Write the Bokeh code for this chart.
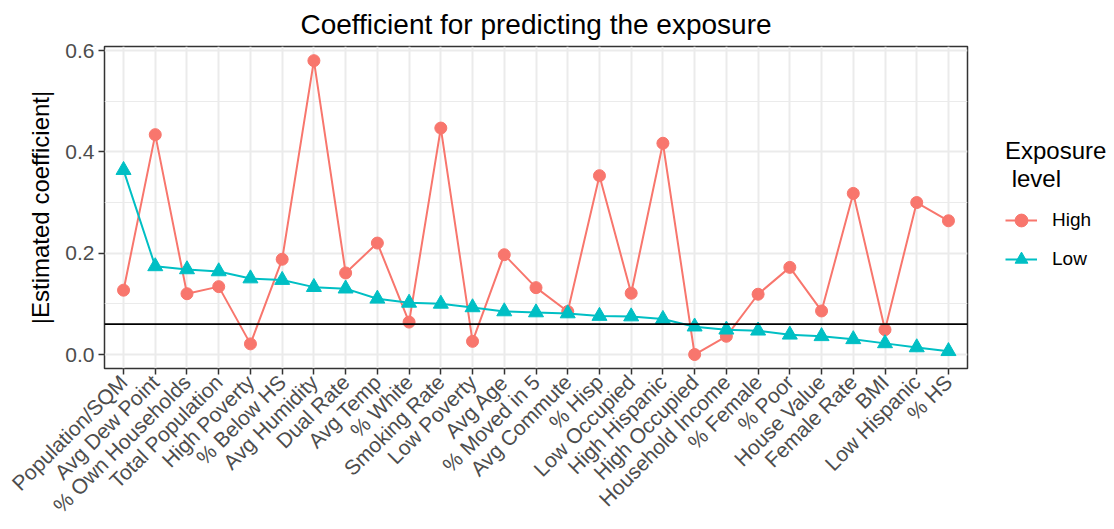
import math
from bokeh.plotting import figure
from bokeh.models import (ColumnDataSource, FactorRange, Range1d, FixedTicker,
                          Legend, LegendItem, Span, NumeralTickFormatter)
from bokeh.embed import file_html
from bokeh.resources import INLINE

categories = ["Population/SQM", "Avg Dew Point", "% Own Households", "Total Population",
              "High Poverty", "% Below HS", "Avg Humidity", "Dual Rate", "Avg Temp",
              "% White", "Smoking Rate", "Low Poverty", "Avg Age", "% Moved in 5",
              "Avg Commute", "% Hisp", "Low Occupied", "High Hispanic", "High Occupied",
              "Household Income", "% Female", "% Poor", "House Value", "Female Rate",
              "BMI", "Low Hispanic", "% HS"]

high = [0.127, 0.434, 0.120, 0.134, 0.021, 0.188, 0.580, 0.161, 0.220, 0.064,
        0.447, 0.026, 0.197, 0.132, 0.085, 0.353, 0.121, 0.417, 0.000, 0.036,
        0.119, 0.172, 0.086, 0.318, 0.049, 0.300, 0.264]

low = [0.364, 0.174, 0.168, 0.164, 0.150, 0.147, 0.133, 0.130, 0.110, 0.102,
       0.100, 0.093, 0.085, 0.083, 0.081, 0.076, 0.075, 0.070, 0.055, 0.049,
       0.047, 0.039, 0.036, 0.030, 0.022, 0.014, 0.0065]

threshold = 0.06
y_ticks = [0.0, 0.2, 0.4, 0.6]
y_minor = [0.1, 0.3, 0.5]

FONT = "Liberation Sans"
RED = "#F8766D"
TEAL = "#00BFC4"

src = ColumnDataSource(dict(cat=categories, high=high, low=low))

p = figure(x_range=FactorRange(factors=categories, range_padding=0.1,
                               range_padding_units="absolute"),
           y_range=Range1d(-0.0276, 0.608),
           frame_width=863, frame_height=322,
           min_border_left=104, min_border_right=139, min_border_top=46,
           min_border_bottom=150,
           output_backend="svg", toolbar_location=None,
           title="Coefficient for predicting the exposure")

p.title.text_font = FONT
p.title.text_font_size = "28px"
p.title.text_font_style = "normal"
p.title.text_color = "black"
p.title.align = "center"
p.title.standoff = 13

p.background_fill_color = "white"
p.border_fill_color = "white"
p.outline_line_color = "#333333"
p.outline_line_width = 1.5

# grids
p.xgrid.grid_line_color = "#EBEBEB"
p.xgrid.grid_line_width = 2
p.ygrid.grid_line_color = "#EBEBEB"
p.ygrid.grid_line_width = 2
p.ygrid.minor_grid_line_color = "#EBEBEB"
p.ygrid.minor_grid_line_width = 1

p.yaxis.ticker = FixedTicker(ticks=y_ticks, minor_ticks=y_minor)
p.yaxis.formatter = NumeralTickFormatter(format="0.0")

for ax in (p.xaxis, p.yaxis):
    ax.axis_line_color = None
    ax.major_tick_line_color = "#333333"
    ax.major_tick_line_width = 1.5
    ax.major_tick_out = 6
    ax.major_tick_in = 0
    ax.minor_tick_line_color = None
    ax.major_label_text_font = FONT
    ax.major_label_text_font_size = "21px"
    ax.major_label_text_color = "#4D4D4D"
    ax.major_label_standoff = 4

p.xaxis.major_label_orientation = math.pi / 4

p.yaxis.axis_label = "|Estimated coefficient|"
p.yaxis.axis_label_text_font = FONT
p.yaxis.axis_label_text_font_size = "24px"
p.yaxis.axis_label_text_font_style = "normal"
p.yaxis.axis_label_text_color = "black"
p.yaxis.axis_label_standoff = 8

l1 = p.line(x="cat", y="high", source=src, line_color=RED, line_width=2)
s1 = p.scatter(x="cat", y="high", source=src, marker="circle", size=12,
               fill_color=RED, line_color=RED)
l2 = p.line(x="cat", y="low", source=src, line_color=TEAL, line_width=2)
s2 = p.scatter(x="cat", y="low", source=src, marker="triangle", size=15,
               fill_color=TEAL, line_color=TEAL)

p.add_layout(Span(location=threshold, dimension="width", line_color="black",
                  line_width=1.8))

legend = Legend(items=[LegendItem(label="High", renderers=[l1, s1]),
                       LegendItem(label="Low", renderers=[l2, s2])],
                title="Exposure\n level",
                location=(38, 92),
                title_text_font=FONT, title_text_font_size="24px",
                title_text_font_style="normal", title_text_color="black",
                title_standoff=10,
                label_text_font=FONT, label_text_font_size="19px",
                label_text_color="black",
                glyph_width=32, glyph_height=34, label_standoff=15,
                spacing=5, padding=0, margin=0,
                border_line_color=None, background_fill_alpha=0)
p.add_layout(legend, "right")

open("out.html", "w").write(file_html(p, INLINE))
